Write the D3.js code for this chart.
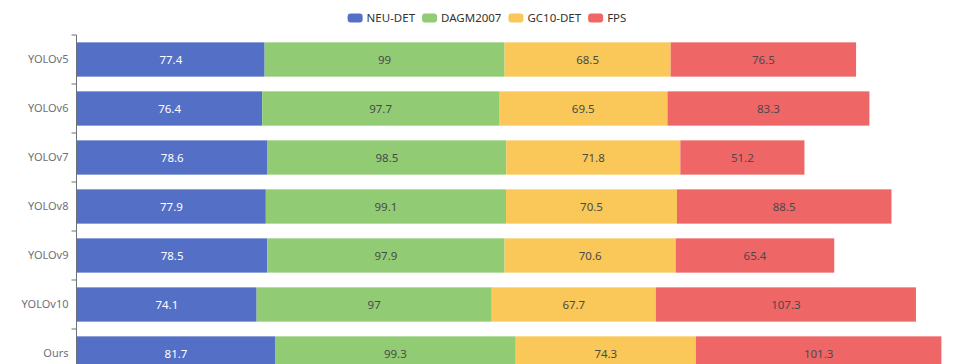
<!DOCTYPE html>
<html>
<head>
<meta charset="utf-8">
<script src="https://cdn.jsdelivr.net/npm/d3@7"></script>
<style>
  body { margin: 0; background: #fff; }
  svg { display: block; font-family: "Noto Sans", sans-serif; }
</style>
</head>
<body>
<script>
// values
var models   = ["YOLOv5", "YOLOv6", "YOLOv7", "YOLOv8", "YOLOv9", "YOLOv10", "Ours"];
var seriesNames = ["NEU-DET", "DAGM2007", "GC10-DET", "FPS"];
var neuDet   = [77.4, 76.4, 78.6, 77.9, 78.5, 74.1, 81.7];
var dagm2007 = [99, 97.7, 98.5, 99.1, 97.9, 97, 99.3];
var gc10Det  = [68.5, 69.5, 71.8, 70.5, 70.6, 67.7, 74.3];
var fps      = [76.5, 83.3, 51.2, 88.5, 65.4, 107.3, 101.3];
var colors   = ["#5470c6", "#91cc75", "#fac858", "#ee6666"];

var width = 966, height = 364;
var margin = {top: 35, left: 76.5};

var svg = d3.select("body").append("svg")
    .attr("width", width)
    .attr("height", height);

var rows = models.map(function(m, i) {
  return {model: m, "NEU-DET": neuDet[i], "DAGM2007": dagm2007[i], "GC10-DET": gc10Det[i], "FPS": fps[i]};
});
var stacked = d3.stack().keys(seriesNames)(rows);

var y = d3.scaleBand()
    .domain(models)
    .range([margin.top, margin.top + 49 * models.length])
    .paddingInner(0.3)
    .paddingOuter(0.15);

var x = d3.scaleLinear()
    .domain([0, 400])
    .range([margin.left + 0.5, margin.left + 0.5 + 400 * 2.424]);

// bars
var layers = svg.append("g").selectAll("g")
  .data(stacked)
  .enter().append("g")
    .attr("fill", function(d, i) { return colors[i]; });

layers.selectAll("rect")
  .data(function(d) { return d; })
  .enter().append("rect")
    .attr("x", function(d) { return x(d[0]); })
    .attr("y", function(d) { return y(d.data.model); })
    .attr("width", function(d) { return x(d[1]) - x(d[0]); })
    .attr("height", y.bandwidth());

layers.selectAll("text")
  .data(function(d, i) { return d.map(function(v) { return {v: v, key: d.key, s: i}; }); })
  .enter().append("text")
    .attr("x", function(d) { return (x(d.v[0]) + x(d.v[1])) / 2; })
    .attr("y", function(d) { return y(d.v.data.model) + y.bandwidth() / 2; })
    .attr("dy", "0.35em")
    .attr("text-anchor", "middle")
    .attr("font-size", 11.5)
    .attr("fill", function(d) { return d.s === 0 ? "#fff" : "#4a4a4a"; })
    .text(function(d) { return d.v.data[d.key]; });

// y axis, ticks on the band edges
var axisG = svg.append("g").attr("class", "y-axis");
var step = y.step();
axisG.append("line")
    .attr("x1", margin.left).attr("x2", margin.left)
    .attr("y1", margin.top).attr("y2", margin.top + step * models.length)
    .attr("stroke", "#6e7079");
axisG.selectAll("line.tick")
  .data(d3.range(models.length + 1))
  .enter().append("line")
    .attr("class", "tick")
    .attr("x1", margin.left - 5).attr("x2", margin.left)
    .attr("y1", function(i) { return margin.top + i * step; })
    .attr("y2", function(i) { return margin.top + i * step; })
    .attr("stroke", "#6e7079");
axisG.selectAll("text")
  .data(models)
  .enter().append("text")
    .attr("x", margin.left - 8)
    .attr("y", function(d) { return y(d) + y.bandwidth() / 2; })
    .attr("dy", "0.35em")
    .attr("text-anchor", "end")
    .attr("font-size", 11)
    .attr("fill", "#6e7079")
    .text(function(d) { return d; });

// legend, centred at the top
var legend = svg.append("g").attr("class", "legend");
var items = legend.selectAll("g")
  .data(seriesNames)
  .enter().append("g");
items.append("rect")
    .attr("width", 15).attr("height", 9)
    .attr("rx", 3).attr("ry", 3)
    .attr("y", -4.5)
    .attr("fill", function(d, i) { return colors[i]; });
items.append("text")
    .attr("x", 19)
    .attr("dy", "0.35em")
    .attr("font-size", 11.5)
    .attr("fill", "#333")
    .text(function(d) { return d; });

var offs = [], pos = 0;
items.each(function() {
  offs.push(pos);
  pos += 19 + d3.select(this).select("text").node().getComputedTextLength() + 7;
});
var total = pos - 7;
var start = 487 - total / 2;
items.attr("transform", function(d, i) { return "translate(" + (start + offs[i]) + ",18)"; });
</script>
</body>
</html>
